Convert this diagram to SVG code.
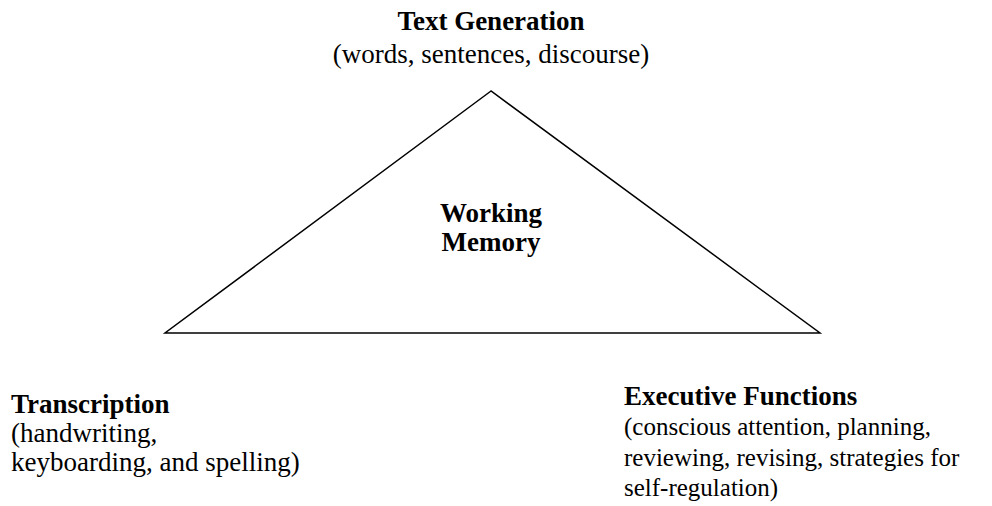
<svg xmlns="http://www.w3.org/2000/svg" width="992" height="506" viewBox="0 0 992 506">
<style>
text{font-family:"Liberation Serif","Times New Roman",serif;font-size:27px;fill:#000}
.b{font-weight:bold}
.c{text-anchor:middle}
.s{font-size:25px}
</style>
<rect width="992" height="506" fill="#fff"/>
<g id="connectors">
<polygon points="491,91 165,333 820,333" fill="none" stroke="#000" stroke-width="1.5"/>
</g>
<g id="text-generation">
<text class="b c" x="491" y="30">Text Generation</text>
<text class="c" x="491" y="63">(words, sentences, discourse)</text>
</g>
<g id="working-memory">
<text class="b c" x="491" y="222">Working</text>
<text class="b c" x="491" y="251">Memory</text>
</g>
<g id="transcription">
<text class="b" x="11" y="413">Transcription</text>
<text x="11" y="442">(handwriting,</text>
<text x="11" y="471">keyboarding, and spelling)</text>
</g>
<g id="executive-functions">
<text class="b" x="624" y="405">Executive Functions</text>
<text class="s" x="624" y="435">(conscious attention, planning,</text>
<text class="s" x="624" y="466">reviewing, revising, strategies for</text>
<text class="s" x="624" y="496">self-regulation)</text>
</g>
</svg>
